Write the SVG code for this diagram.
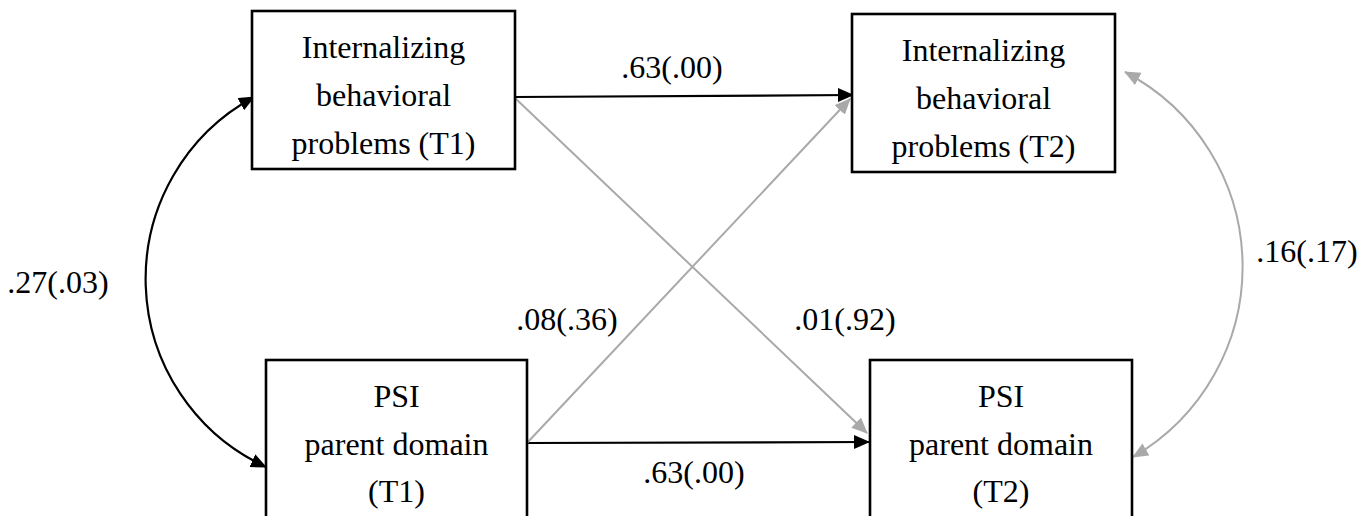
<svg xmlns="http://www.w3.org/2000/svg" width="1370" height="516" viewBox="0 0 1370 516">
<style>
  .box { fill: #ffffff; stroke: #000000; stroke-width: 2.6; }
  text { font-family: 'Liberation Serif', 'Times New Roman', Times, serif; font-size: 32px; fill: #000000; }
  .c { text-anchor: middle; }
  .blk { fill: none; stroke: #000000; stroke-width: 2.2; }
  .gry { fill: none; stroke: #A9A9A9; stroke-width: 2; }
</style>
<defs>
  <marker id="ab" markerUnits="userSpaceOnUse" markerWidth="18" markerHeight="16" refX="15" refY="7" orient="auto-start-reverse">
    <path d="M0,0 L16,7 L0,14 z" fill="#000000"/>
  </marker>
  <marker id="ag" markerUnits="userSpaceOnUse" markerWidth="18" markerHeight="16" refX="15" refY="7" orient="auto-start-reverse">
    <path d="M0,0 L16,7 L0,14 z" fill="#A9A9A9"/>
  </marker>
</defs>
<rect width="1370" height="516" fill="#ffffff"/>

<g id="connectors">
  <path id="e-ib1-ib2" class="blk" d="M515,97 L853,95" marker-end="url(#ab)"/>
  <path id="e-psi1-psi2" class="blk" d="M527,443 L869,442" marker-end="url(#ab)"/>
  <path id="e-ib1-psi2" class="gry" d="M515,98 L867,433" marker-end="url(#ag)"/>
  <path id="e-psi1-ib2" class="gry" d="M527,443 L850,99" marker-end="url(#ag)"/>
  <path id="e-cov-t1" class="blk" d="M254,97 A207,207 0 0 0 266,467" marker-start="url(#ab)" marker-end="url(#ab)"/>
  <path id="e-cov-t2" class="gry" d="M1125,72 A220,220 0 0 1 1133,457" marker-start="url(#ag)" marker-end="url(#ag)"/>
</g>

<g id="labels" font-family="Liberation Serif, serif">
  <text x="672" y="78" class="c">.63(.00)</text>
  <text x="58" y="293" class="c">.27(.03)</text>
  <text x="1307" y="262" class="c">.16(.17)</text>
  <text x="567" y="330" class="c">.08(.36)</text>
  <text x="845" y="330" class="c">.01(.92)</text>
  <text x="694" y="483" class="c">.63(.00)</text>
</g>

<g id="node-ib-t1">
  <rect class="box" x="252" y="11" width="263" height="158"/>
  <text x="383.5" y="58" class="c">Internalizing</text>
  <text x="383.5" y="106" class="c">behavioral</text>
  <text x="383.5" y="154" class="c">problems (T1)</text>
</g>

<g id="node-ib-t2">
  <rect class="box" x="852" y="14" width="263" height="158"/>
  <text x="983.5" y="61" class="c">Internalizing</text>
  <text x="983.5" y="109" class="c">behavioral</text>
  <text x="983.5" y="157" class="c">problems (T2)</text>
</g>

<g id="node-psi-t1">
  <rect class="box" x="266" y="360" width="261" height="170"/>
  <text x="396.5" y="407" class="c">PSI</text>
  <text x="396.5" y="455" class="c">parent domain</text>
  <text x="396.5" y="502" class="c">(T1)</text>
</g>

<g id="node-psi-t2">
  <rect class="box" x="870" y="360" width="262" height="170"/>
  <text x="1001" y="407" class="c">PSI</text>
  <text x="1001" y="455" class="c">parent domain</text>
  <text x="1001" y="502" class="c">(T2)</text>
</g>
</svg>
